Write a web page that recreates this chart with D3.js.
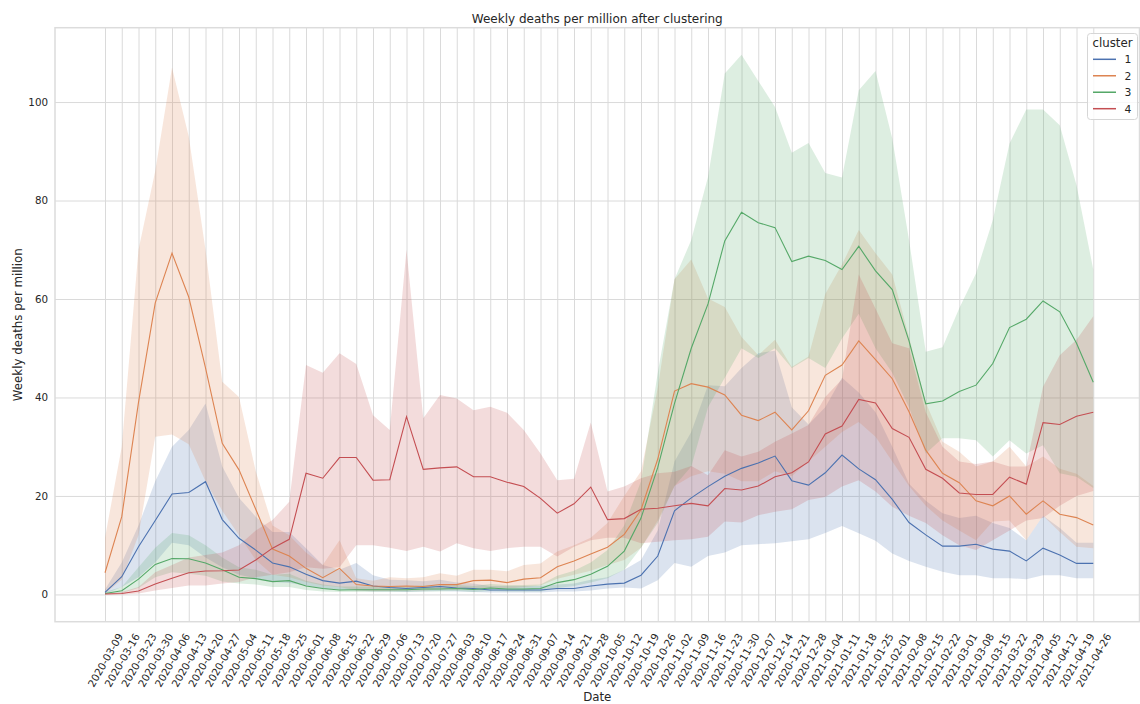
<!DOCTYPE html>
<html>
<head>
<meta charset="utf-8">
<script src="https://cdn.jsdelivr.net/npm/d3@7"></script>
<style>
  body { margin: 0; background: #fff; }
  svg text { font-family: "DejaVu Sans", sans-serif; fill: #262626; }
</style>
</head>
<body>
<svg width="1140" height="704"></svg>
<script>
// weekly dates (x categories)
var dates = ["2020-03-09","2020-03-16","2020-03-23","2020-03-30","2020-04-06","2020-04-13","2020-04-20","2020-04-27",
  "2020-05-04","2020-05-11","2020-05-18","2020-05-25","2020-06-01","2020-06-08","2020-06-15","2020-06-22","2020-06-29",
  "2020-07-06","2020-07-13","2020-07-20","2020-07-27","2020-08-03","2020-08-10","2020-08-17","2020-08-24","2020-08-31",
  "2020-09-07","2020-09-14","2020-09-21","2020-09-28","2020-10-05","2020-10-12","2020-10-19","2020-10-26","2020-11-02",
  "2020-11-09","2020-11-16","2020-11-23","2020-11-30","2020-12-07","2020-12-14","2020-12-21","2020-12-28","2021-01-04",
  "2021-01-11","2021-01-18","2021-01-25","2021-02-01","2021-02-08","2021-02-15","2021-02-22","2021-03-01","2021-03-08",
  "2021-03-15","2021-03-22","2021-03-29","2021-04-05","2021-04-12","2021-04-19","2021-04-26"];

var yTicks = [0, 20, 40, 60, 80, 100];
var clusters = ["1", "2", "3", "4"];

// cluster 1
var c1Mean = [0.4,3.6,9.7,15,20.4,20.7,22.9,15.2,11.4,9.0, 6.4,5.6,4.1,2.8,2.3,2.7,1.7,1.4,1.2,1.4,
  1.6,1.3,1.2,0.9,0.9,0.9,0.9,1.2,1.2,1.7, 2.1,2.3,3.9,7.8,17.0,19.6,21.9,24.0,25.6,26.7,
  28.1,23.1,22.2,24.7,28.3,25.5,23.3,19.3,14.6,12.1, 9.8,9.8,10.2,9.2,8.8,6.8,9.4,8.0,6.3,6.3];
var c1Lo = [0.1,1.5,3.5,6.5,10.5,10,7.5,5.5,4.0,3.3, 2.5,2.3,1.8,1.2,1.0,0.8,0.6,0.6,0.5,0.6,
  0.7,0.6,0.5,0.4,0.4,0.4,0.4,0.6,0.6,0.8, 1.2,1.4,1.2,2.9,6.4,5.6,7.8,8.5,10.0,10.2,
  10.4,10.8,11.2,12.5,13.9,12.4,10.9,8.3,6.8,5.6, 4.6,3.9,3.9,3.3,3.3,3.1,3.9,3.9,3.3,3.3];
var c1Hi = [1.0,6.5,14,23,30,33.4,38.8,26,19.6,15.8, 12.7,12.7,9.4,6.0,5.0,6.4,3.9,3.0,2.9,2.7,
  3.0,2.4,2.2,1.7,1.7,1.7,1.7,2.0,2.2,3.0, 3.5,5.0,7.0,13,27,33,42.5,42.3,46,49,
  49.5,38,34.5,38,44,41,37,30,22.5,19, 16.5,15.5,16,14.5,13.5,11,16,13.5,10.5,10.5];

// cluster 2
var c2Mean = [4.4,15.8,39,59.2,69.3,60.4,46,30.7,25.3,17.3, 9.2,7.8,5.3,3.4,5.3,2.0,1.7,1.6,1.7,1.6,
  2.0,2.0,2.8,2.9,2.4,3.1,3.4,5.6,6.8,8.2, 9.6,12.2,17.2,27.5,41.3,42.8,42.1,40.5,36.4,35.3,
  37.0,33.4,37.3,44.5,46.6,51.5,47.7,43.8,37.1,29.3, 24.6,22.7,19.0,18.0,20.0,16.3,19.0,16.3,15.6,14.1];
var c2Lo = [0.2,3,12,32,32.5,30.5,23,17,12,7, 4,3.5,2.5,1.8,1.5,0.8,0.7,0.7,0.8,0.8,
  1.0,1.0,1.3,1.3,1.2,1.5,1.8,3.2,4.0,4.8, 6.0,7.0,9.5,15,22,24,25,24.5,23,23,
  25,24,27,30,33,35,32,27,22,18, 15,13,11,14.8,15,11,16,12.7,9.7,9.4];
var c2Hi = [11.5,30,70,86,107,93,70,43.2,40.1,25, 14,12,8.5,6,11,3.3,2.8,3.5,3.3,3.5,
  4.3,3.8,5,5,4.7,6.0,6.3,8.7,10,11.5, 14.5,20,25,42,64,68,60.1,58.4,52.3,48.6,
  51.7,46.2,48.3,61,67,74,69.3,65,52.3,39, 31,29,26,27,30,26,28,25.5,24.5,22];

// cluster 3
var c3Mean = [0.2,0.75,3.1,6.1,7.3,7.25,6.4,5.0,3.5,3.2, 2.6,2.8,1.7,1.2,0.9,0.95,0.95,0.95,0.95,1.1,
  1.1,1.2,1.0,1.3,1.1,1.1,1.2,2.4,3.0,4.1, 5.7,8.8,15.5,25.8,38.8,50,59,71.8,77.6,75.5,
  74.5,67.6,68.7,67.8,66.0,70.7,65.7,61.9,51.5,38.7, 39.3,41.2,42.5,46.9,54.2,55.9,59.6,57.4,51.0,43.1];
var c3Lo = [0.05,0.3,1.3,3.5,4.5,4.2,3.8,2.6,2.2,2.0, 1.5,1.5,0.9,0.6,0.5,0.5,0.5,0.5,0.5,0.6,
  0.6,0.7,0.5,0.7,0.6,0.6,0.6,1.3,1.7,2.4, 3.3,5.0,9.5,14.5,22,26,38,44,50,48,
  50,46,48,46,52,57,50,45,38,28.6, 31.7,31.7,31.3,28,31.3,28.6,30.3,24.6,23.9,21.6];
var c3Hi = [0.5,1.5,5.5,9.5,12.5,12,10,7.5,5.5,5.0, 4,4.2,2.8,2.0,1.6,1.6,1.6,1.6,1.6,1.8,
  1.8,1.9,1.7,2.1,1.9,1.9,2.0,3.8,4.8,6.5, 9,14,23,45,64,72,84.8,105.8,109.6,104.3,
  99,89.7,91.7,85.6,84.7,102.4,106.3,92.6,72,49.3, 50.2,58.1,65.2,76,91.6,98.5,98.5,95.3,83.1,66];

// cluster 4
var c4Mean = [0.1,0.2,0.7,2.1,3.3,4.4,4.75,4.8,4.95,7.0, 9.4,11.2,24.6,23.6,27.8,27.8,23.2,23.3,36.1,25.4,
  25.7,25.9,23.9,23.9,22.8,21.9,19.5,16.5,18.4,21.8, 15.2,15.4,17.3,17.5,18.0,18.5,18.0,21.5,21.2,22.0,
  23.9,24.7,26.9,32.6,34.2,39.6,38.9,33.7,31.9,25.4, 23.6,20.6,20.3,20.3,23.8,22.4,34.9,34.5,36.2,37.0];
var c4Lo = [0,0,0.2,0.8,1.3,1.8,1.8,2.2,2.5,3.5, 4,4.5,5.5,5.2,5.5,10,10,9.5,8.8,9.7,
  8.7,10.4,9.4,8.8,9.4,9.7,9.7,7.7,9.7,11.0, 11.5,11.5,10.4,10.7,11.0,11.2,11.7,14.8,14.6,16.1,
  16.8,17.3,19.2,19.8,21.9,23.2,20.9,17.8,16,14.5, 12,10,9,11,13,15,15.5,18,20,21];
var c4Hi = [0.2,0.5,1.5,4.5,6,7.5,8,8.5,10,13, 15.1,18.8,46.6,45,49,46.8,36.4,33.4,70,35.8,
  40.5,39.8,37.4,38.1,36.9,33.4,28.6,23.2,23.5,34.9, 20.9,21.9,23.6,24.6,24.9,26.1,24.2,29.3,28.0,29.0,
  31.0,32.7,34.4,40.1,43.7,65,58,51,50,37, 30,27,26.5,27,26,26,42.2,48.6,51.7,56.5];

var colors = ["#4c72b0", "#dd8452", "#55a868", "#c44e52"];

var series = [
  {name: clusters[0], mean: c1Mean, lo: c1Lo, hi: c1Hi},
  {name: clusters[1], mean: c2Mean, lo: c2Lo, hi: c2Hi},
  {name: clusters[2], mean: c3Mean, lo: c3Lo, hi: c3Hi},
  {name: clusters[3], mean: c4Mean, lo: c4Lo, hi: c4Hi}
];

var svg = d3.select("svg");
var plotLeft = 55, plotRight = 1139.5, plotTop = 27.7, plotBottom = 621.7;

// x: week index, padded like the matplotlib autoscale
var x = d3.scaleLinear().domain([-2.985, 61.76]).range([plotLeft, plotRight]);
var y = d3.scaleLinear().domain([-5.54, 115.1]).range([plotBottom, plotTop]);

// grid via axes
var gx = svg.append("g")
    .attr("transform", "translate(0," + plotBottom + ")")
    .call(d3.axisBottom(x)
        .tickValues(d3.range(dates.length))
        .tickSize(-(plotBottom - plotTop))
        .tickFormat(function(i) { return dates[i]; }));
gx.select(".domain").remove();
gx.selectAll("line").attr("stroke", "#dadada").attr("stroke-width", 1);
gx.selectAll("text")
    .attr("font-size", 10.3)
    .attr("fill", "#262626")
    .attr("text-anchor", "middle")
    .attr("dy", "0.35em")
    .attr("y", 0)
    .attr("x", 0)
    .attr("transform", "translate(0,38.5) rotate(-60)");

var gy = svg.append("g")
    .attr("transform", "translate(" + plotLeft + ",0)")
    .call(d3.axisLeft(y)
        .tickValues(yTicks)
        .tickSize(-(plotRight - plotLeft))
        .tickPadding(7));
gy.select(".domain").remove();
gy.selectAll("line").attr("stroke", "#dadada").attr("stroke-width", 1);
gy.selectAll("text").attr("font-size", 10.3).attr("fill", "#262626");

// frame
svg.append("rect")
    .attr("x", plotLeft).attr("y", plotTop)
    .attr("width", plotRight - plotLeft).attr("height", plotBottom - plotTop)
    .attr("fill", "none").attr("stroke", "#dcdcdc").attr("stroke-width", 1.5);

// confidence bands
var area = d3.area()
    .x(function(d, i) { return x(i); })
    .y0(function(d) { return y(d[0]); })
    .y1(function(d) { return y(d[1]); });

series.forEach(function(s, k) {
    var band = s.lo.map(function(v, i) { return [v, s.hi[i]]; });
    svg.append("path")
        .datum(band)
        .attr("d", area)
        .attr("fill", colors[k])
        .attr("fill-opacity", 0.2);
});

// mean lines
var line = d3.line()
    .x(function(d, i) { return x(i); })
    .y(function(d) { return y(d); });

series.forEach(function(s, k) {
    svg.append("path")
        .datum(s.mean)
        .attr("d", line)
        .attr("fill", "none")
        .attr("stroke", colors[k])
        .attr("stroke-width", 1.1);
});

// titles
svg.append("text")
    .attr("x", (plotLeft + plotRight) / 2).attr("y", 22.5)
    .attr("text-anchor", "middle").attr("font-size", 12)
    .text("Weekly deaths per million after clustering");

svg.append("text")
    .attr("x", (plotLeft + plotRight) / 2).attr("y", 700.5)
    .attr("text-anchor", "middle").attr("font-size", 11.8)
    .text("Date");

svg.append("text")
    .attr("transform", "translate(21.5," + ((plotTop + plotBottom) / 2) + ") rotate(-90)")
    .attr("text-anchor", "middle").attr("font-size", 11.8)
    .text("Weekly deaths per million");

// legend
var lg = svg.append("g");
lg.append("rect")
    .attr("x", 1087.5).attr("y", 33.5).attr("width", 50).attr("height", 86).attr("rx", 3)
    .attr("fill", "#fff").attr("fill-opacity", 0.8)
    .attr("stroke", "#d6d6d6").attr("stroke-width", 1);
lg.append("text")
    .attr("x", 1112.5).attr("y", 46.8)
    .attr("text-anchor", "middle").attr("font-size", 11.8)
    .text("cluster");
var ly = d3.scaleLinear().domain([0, 3]).range([59.3, 108.7]);
clusters.forEach(function(c, k) {
    lg.append("line")
        .attr("x1", 1093).attr("x2", 1116)
        .attr("y1", ly(k)).attr("y2", ly(k))
        .attr("stroke", colors[k]).attr("stroke-width", 1.5);
    lg.append("text")
        .attr("x", 1124.5).attr("y", ly(k) + 3.8)
        .attr("font-size", 10.8)
        .text(c);
});
</script>
</body>
</html>
